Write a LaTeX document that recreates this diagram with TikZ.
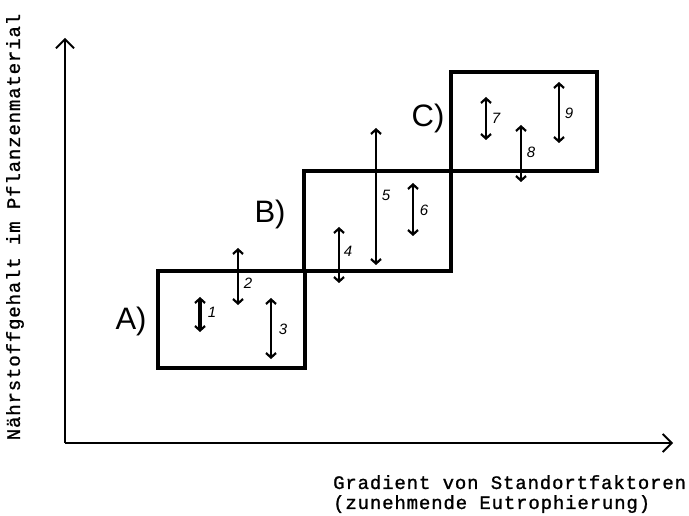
\documentclass[tikz,border=0pt]{standalone}
\usepackage{fontspec}
\setmainfont{Liberation Sans}
\newfontfamily\monof{Liberation Mono}[LetterSpace=4.5,FakeBold=1.2]
\usetikzlibrary{arrows.meta}
\begin{document}
\begin{tikzpicture}[x=1pt,y=-1pt,
  axis/.style={line width=1.8pt,-{Straight Barb[length=9pt,width=18pt,line width=1.8pt]}},
  box/.style={draw,line width=3.6pt,inner sep=0pt},
  darr/.style={line width=2.2pt,{Straight Barb[length=4.5pt,width=10pt,line width=2.2pt]}-{Straight Barb[length=4.5pt,width=10pt,line width=2.2pt]}},
  boxlabel/.style={font=\fontsize{31}{31}\selectfont,inner sep=0pt},
  num/.style={font=\fontsize{15}{15}\selectfont\itshape,inner sep=0pt},
  axlabel/.style={font=\monof\fontsize{19}{20}\selectfont,inner sep=0pt}]
\useasboundingbox (0,0) rectangle (689,516);
% axes
\coordinate (O) at (65,443);
\coordinate (Ytop) at (65,38);
\coordinate (Xend) at (673,443);
\draw[axis] (O) -- (Ytop);
\draw[axis] (O) -- (Xend);
% boxes
\node[box,minimum width=147pt,minimum height=97pt] (A) at (231.5,319.5) {};
\node[box,minimum width=147pt,minimum height=100pt] (B) at (377.5,221) {};
\node[box,minimum width=146pt,minimum height=99pt] (C) at (524,121.5) {};
% box labels
\node[boxlabel] (lA) at (131,321) {A)};
\node[boxlabel] (lB) at (270,214) {B)};
\node[boxlabel] (lC) at (428,118) {C)};
% double arrows
\coordinate (a1t) at (200,297); \coordinate (a1b) at (200,332);
\coordinate (a2t) at (238,248); \coordinate (a2b) at (238,305);
\coordinate (a3t) at (271,298); \coordinate (a3b) at (271,359);
\coordinate (a4t) at (339,227); \coordinate (a4b) at (339,283);
\coordinate (a5t) at (376,128); \coordinate (a5b) at (376,265);
\coordinate (a6t) at (413,183); \coordinate (a6b) at (413,236);
\coordinate (a7t) at (486,97);  \coordinate (a7b) at (486,140);
\coordinate (a8t) at (521,125); \coordinate (a8b) at (521,182);
\coordinate (a9t) at (559,82);  \coordinate (a9b) at (559,143);
\draw[darr,line width=3.2pt] (a1t) -- (a1b);
\draw[darr] (a2t) -- (a2b);
\draw[darr] (a3t) -- (a3b);
\draw[darr] (a4t) -- (a4b);
\draw[darr] (a5t) -- (a5b);
\draw[darr] (a6t) -- (a6b);
\draw[darr] (a7t) -- (a7b);
\draw[darr] (a8t) -- (a8b);
\draw[darr] (a9t) -- (a9b);
% numbers
\node[num] (n1) at (212,312) {1};
\node[num] (n2) at (248,283) {2};
\node[num] (n3) at (283,329) {3};
\node[num] (n4) at (348,251) {4};
\node[num] (n5) at (386,195) {5};
\node[num] (n6) at (424,210) {6};
\node[num] (n7) at (496,118) {7};
\node[num] (n8) at (531,152) {8};
\node[num] (n9) at (569,113) {9};
% axis labels
\node[axlabel,rotate=90] (ylab) at (15,227) {Nährstoffgehalt im Pflanzenmaterial};
\node[axlabel,anchor=north west,align=left] (xlab) at (333,475) {Gradient von Standortfaktoren\\(zunehmende Eutrophierung)};
\end{tikzpicture}
\end{document}
